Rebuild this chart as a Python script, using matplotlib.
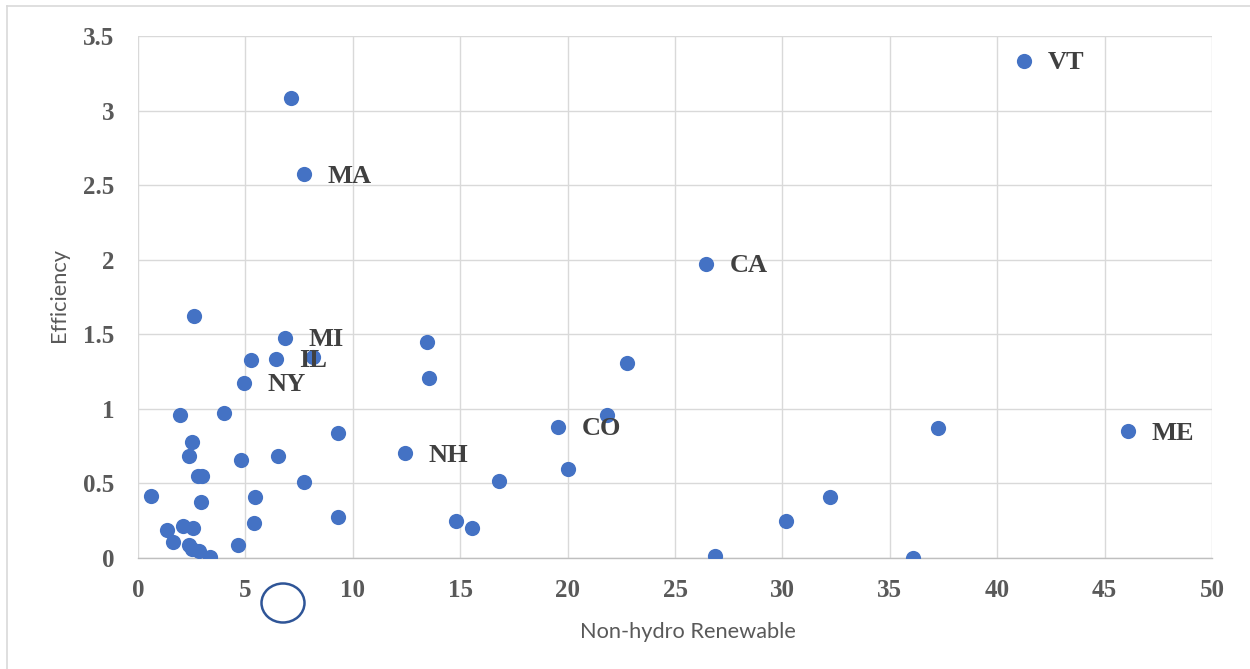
import matplotlib
matplotlib.use("Agg")
import matplotlib.pyplot as plt
from matplotlib.patches import Ellipse
from matplotlib.lines import Line2D

# data
non_hydro = [41.25, 7.12, 7.73, 26.44, 2.61, 6.84, 13.45, 22.77, 5.26, 6.42,
             8.15, 13.55, 4.93, 1.96, 4.00, 21.83, 19.55, 37.24, 46.09, 9.31,
             2.51, 12.43, 2.37, 6.52, 4.80, 20.02, 2.79, 2.98, 16.81, 7.73,
             0.60, 5.45, 32.22, 2.93, 9.31, 14.80, 30.17, 5.40, 2.10, 2.56,
             1.35, 15.55, 1.63, 2.37, 4.66, 2.51, 2.84, 3.35, 26.86, 36.08]
efficiency = [3.333, 3.085, 2.575, 1.972, 1.623, 1.476, 1.449, 1.308, 1.328, 1.335,
              1.348, 1.207, 1.174, 0.959, 0.972, 0.959, 0.879, 0.872, 0.852, 0.838,
              0.778, 0.704, 0.684, 0.684, 0.657, 0.597, 0.550, 0.550, 0.516, 0.510,
              0.416, 0.409, 0.409, 0.376, 0.275, 0.248, 0.248, 0.235, 0.215, 0.201,
              0.188, 0.201, 0.107, 0.087, 0.087, 0.060, 0.047, 0.007, 0.013, 0.000]
# which points carry a state label
state_labels = {0: "VT", 2: "MA", 3: "CA", 5: "MI", 9: "IL", 12: "NY",
                16: "CO", 18: "ME", 21: "NH"}

x_ticks = [0, 5, 10, 15, 20, 25, 30, 35, 40, 45, 50]
y_ticks = [0, 0.5, 1, 1.5, 2, 2.5, 3, 3.5]
y_tick_labels = ["0", "0.5", "1", "1.5", "2", "2.5", "3", "3.5"]

serif = "Liberation Serif"
sans = "Lato"

fig = plt.figure(figsize=(12.5, 6.69), dpi=100)
ax = fig.add_axes([138/1250, 1-558/669, (1212-138)/1250, (558-36)/669])

ax.scatter(non_hydro, efficiency, s=120, color="#4472C4", zorder=3, linewidths=0)

for i, lab in state_labels.items():
    ax.annotate(lab, (non_hydro[i], efficiency[i]), xytext=(17, -1.5),
                textcoords="offset points", ha="left", va="center",
                fontsize=19, fontweight="bold", family=serif, color="#404040",
                zorder=4)

ax.set_xlim(0, 50)
ax.set_ylim(0, 3.5)
ax.set_xticks(x_ticks)
ax.set_xticklabels([str(t) for t in x_ticks])
ax.set_yticks(y_ticks)
ax.set_yticklabels(y_tick_labels)
for lbl in ax.get_xticklabels() + ax.get_yticklabels():
    lbl.set_fontfamily(serif)
    lbl.set_fontweight("bold")
    lbl.set_fontsize(18)
    lbl.set_color("#595959")
ax.tick_params(axis="both", length=0)
ax.tick_params(axis="x", pad=15)
ax.tick_params(axis="y", pad=17)

ax.grid(True, color="#D9D9D9", linewidth=1.0)
ax.set_axisbelow(True)
for side in ["top", "right", "left"]:
    ax.spines[side].set_visible(False)
ax.spines["bottom"].set_color("#BFBFBF")
ax.spines["bottom"].set_linewidth(1.0)

# axis titles
fig.text(688/1250, 1-632/669, "Non-hydro Renewable", ha="center", va="center",
         fontsize=15.7, family=sans, color="#595959")
fig.text(59/1250, 1-295/669, "Efficiency", ha="center", va="center",
         rotation=90, fontsize=15.7, family=sans, color="#595959")

# hand-drawn circle under the axis
fig.patches.append(Ellipse((283/1250, 1-603/669), 43/1250, 39/669,
                           transform=fig.transFigure, fill=False,
                           edgecolor="#2F5597", linewidth=1.8))

# chart frame
fig.add_artist(Line2D([7/1250, 1], [1-6/669, 1-6/669], transform=fig.transFigure,
                      color="#D9D9D9", linewidth=1.2))
fig.add_artist(Line2D([7/1250, 7/1250], [0, 1-6/669], transform=fig.transFigure,
                      color="#D9D9D9", linewidth=1.2))

fig.savefig("out.png", dpi=100)
